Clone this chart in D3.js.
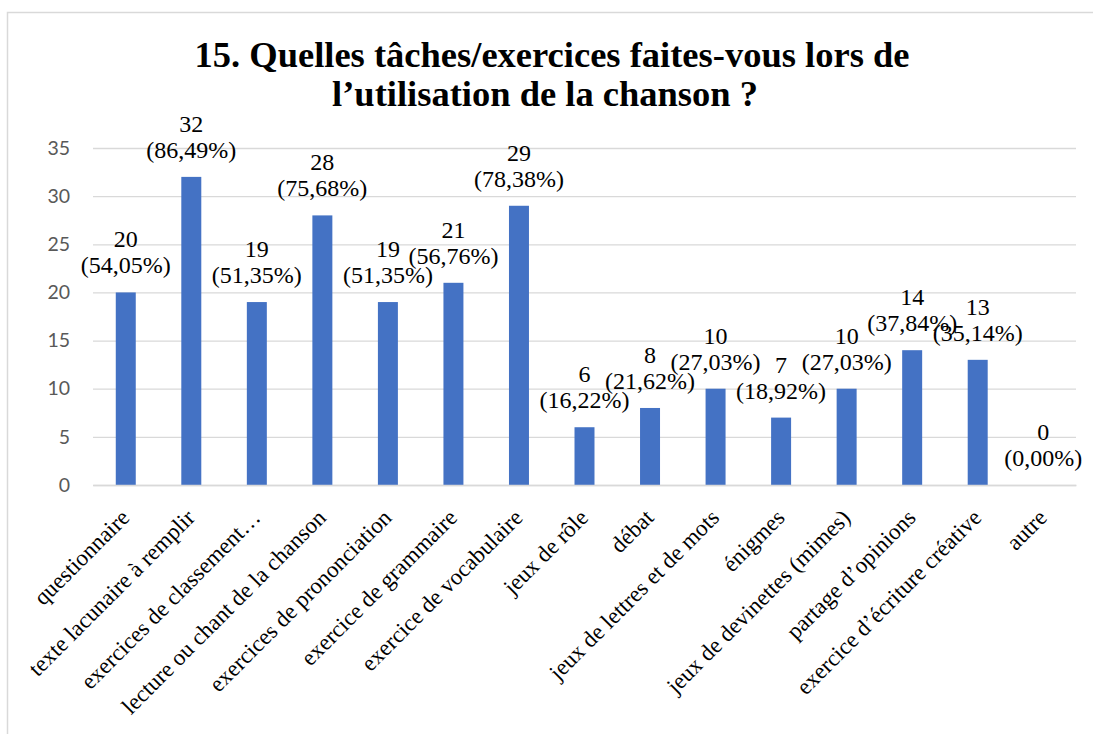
<!DOCTYPE html>
<html><head><meta charset="utf-8">
<script src="https://cdn.jsdelivr.net/npm/d3@7"></script>
<style>body{margin:0;background:#fff;overflow:hidden}</style>
</head><body><svg id="c" width="1093" height="734"></svg>
<script>
const categories = ["questionnaire","texte lacunaire à remplir","exercices de classement…","lecture ou chant de la chanson","exercices de prononciation","exercice de grammaire","exercice de vocabulaire","jeux de rôle","débat","jeux de lettres et de mots","énigmes","jeux de devinettes (mimes)","partage d’opinions","exercice d’écriture créative","autre"];
const values = [20,32,19,28,19,21,29,6,8,10,7,10,14,13,0];
const percentLabels = ["(54,05%)","(86,49%)","(51,35%)","(75,68%)","(51,35%)","(56,76%)","(78,38%)","(16,22%)","(21,62%)","(27,03%)","(18,92%)","(27,03%)","(37,84%)","(35,14%)","(0,00%)"];
const yTicks = [0,5,10,15,20,25,30,35];
const titleLines = ["15. Quelles tâches/exercices faites-vous lors de","l’utilisation de la chanson ?"];

const svg = d3.select("#c");
const serif = "'Liberation Serif','Times New Roman',serif";

// outer chart border
svg.append("rect").attr("x",7.5).attr("y",12.5).attr("width",1300).attr("height",900)
  .attr("fill","none").attr("stroke","#d9d9d9").attr("stroke-width",1.5);

const x = d3.scaleBand().domain(categories).range([93,1076]).paddingInner(0.695).paddingOuter(0.3475);
const y = d3.scaleLinear().domain([0,35]).range([485,148]);

// gridlines
svg.append("g").selectAll("line").data(yTicks).join("line")
  .attr("x1",93).attr("x2",1076).attr("y1",d=>y(d)+0.5).attr("y2",d=>y(d)+0.5)
  .attr("stroke","#d9d9d9").attr("stroke-width",1.3);

// y axis labels
const yAxis = d3.axisLeft(y).tickValues(yTicks).tickSize(0).tickPadding(0);
const gy = svg.append("g").attr("transform","translate(70,0)").call(yAxis);
gy.select(".domain").remove();
gy.selectAll("text").attr("font-family","Lato,'Open Sans',sans-serif").attr("font-size",19.5).attr("fill","#595959");

// bars
svg.append("g").selectAll("rect").data(values).join("rect")
  .attr("x",(d,i)=>x(categories[i])).attr("width",x.bandwidth())
  .attr("y",d=>y(d)).attr("height",d=>y(0)-y(d)).attr("fill","#4472c4");

// data labels
const lbl = svg.append("g").attr("font-family",serif).attr("font-size",24).attr("fill","#000").attr("text-anchor","middle");
values.forEach((v,i)=>{
  const cx = x(categories[i]) + x.bandwidth()/2;
  lbl.append("text").attr("x",cx).attr("y",y(v)-45).text(v);
  lbl.append("text").attr("x",cx).attr("y",y(v)-19).text(percentLabels[i]);
});

// x axis category labels
const xAxis = d3.axisBottom(x).tickSize(0).tickPadding(0);
const gx = svg.append("g").attr("transform","translate(0,485)").call(xAxis);
gx.select(".domain").attr("stroke","#d9d9d9").attr("stroke-width",1.3);
gx.selectAll("text")
  .attr("font-family",serif).attr("font-size",23).attr("fill","#000")
  .attr("text-anchor","end").attr("dy",0)
  .attr("transform","translate(5,34) rotate(-45)");

// title
const t = svg.append("text").attr("font-family",serif).attr("font-weight","bold").attr("font-size",36.5).attr("fill","#000").attr("text-anchor","middle");
t.append("tspan").attr("x",552).attr("y",67).text(titleLines[0]);
t.append("tspan").attr("x",545).attr("y",106).text(titleLines[1]);
</script></body></html>
